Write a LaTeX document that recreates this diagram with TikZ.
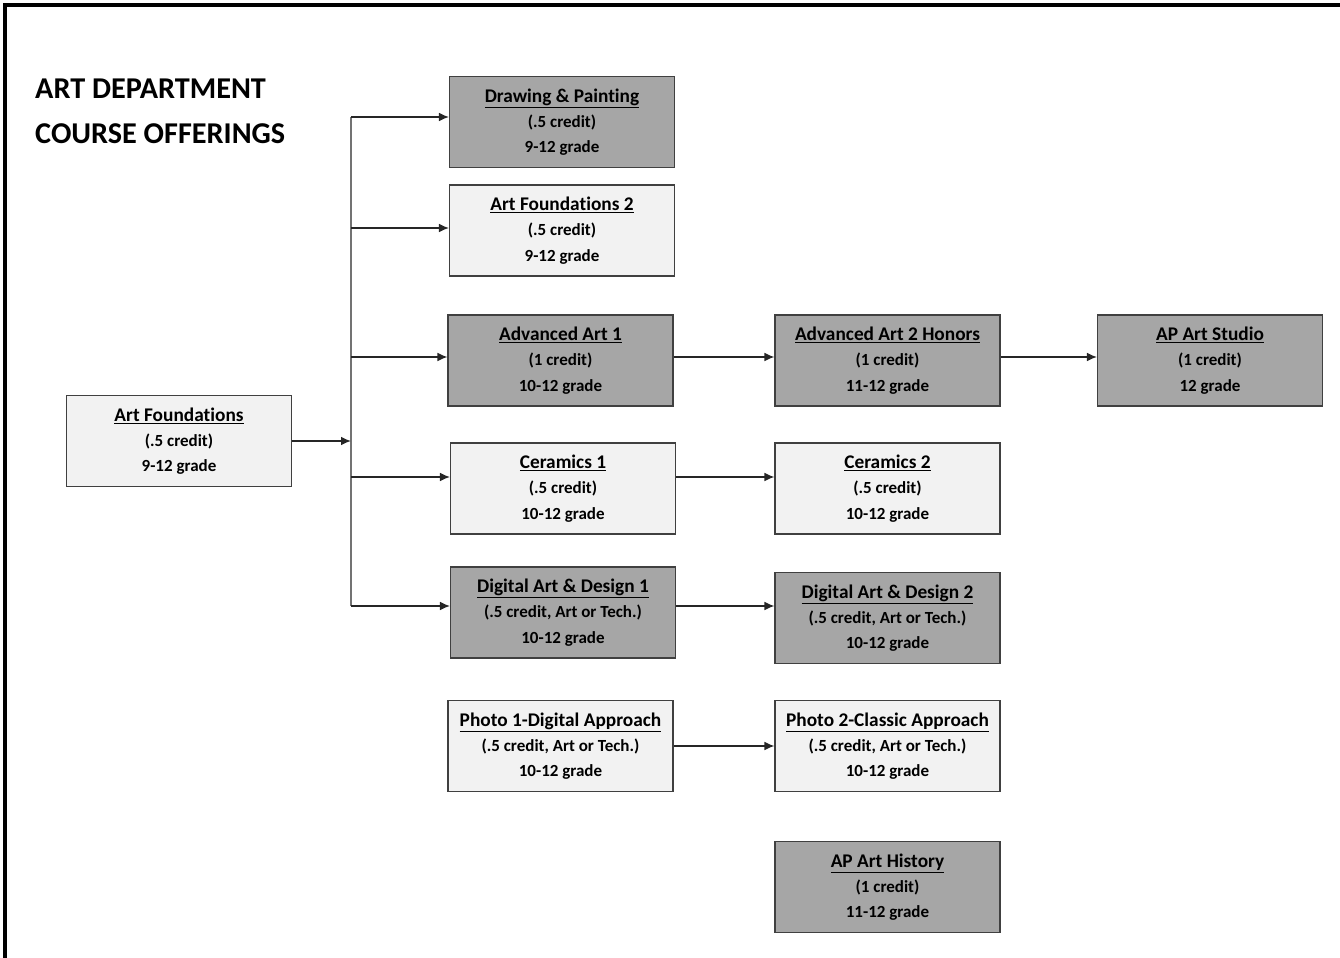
\documentclass[tikz,border=0pt]{standalone}
\usepackage{fontspec}
\setmainfont[Ligatures=NoCommon, RawFeature={-liga;-clig;-calt}]{Carlito}
\usepackage{xcolor}
\usetikzlibrary{arrows.meta, positioning, calc}
\definecolor{artDark}{RGB}{166, 166, 166}
\definecolor{artLight}{RGB}{242, 242, 242}
\definecolor{artBorder}{RGB}{64, 64, 64}
\newcommand{\boxtitle}[1]{{\fontsize{16.5pt}{21.3pt}\selectfont\underline{#1}}}

\begin{document}
\begin{tikzpicture}[x=0.03cm, y=-0.03cm]
        \tikzstyle{box} = [rectangle, minimum width=6.75cm, minimum height=2.73cm, align=center, font=\fontsize{14.5pt}{21.5pt}\selectfont\bfseries, draw=artBorder, line width=0.9pt, inner sep=2pt]
        \tikzstyle{title} = [anchor=base west, inner sep=0pt, font=\fontsize{25.8pt}{30pt}\selectfont\bfseries]
        \tikzstyle{arrow} = [-{Latex[length=3mm, width=2.6mm]}, line width=1.1pt, black!85]
        \tikzstyle{trunk} = [line width=1pt, black!55]

        \useasboundingbox (0,0) rectangle (1340,958);
        \draw[line width=2.6pt] (5,958) -- (5,5) -- (1340,5);

        % Title
        \node[title] (title1) at (35,99) {ART DEPARTMENT};
        \node[title] (title2) at (35,144) {COURSE OFFERINGS};

        % First year
        \node[box, fill=artLight] (af) at (179,441) {\boxtitle{Art Foundations}\\(.5 credit)\\9-12 grade};

        % Second column
        \node[box, fill=artDark] (dp) at (562,122) {\boxtitle{Drawing \& Painting}\\(.5 credit)\\9-12 grade};
        \node[box, fill=artLight] (af2) at (562,230.5) {\boxtitle{Art Foundations 2}\\(.5 credit)\\9-12 grade};
        \node[box, fill=artDark] (adv1) at (560.5,360.5) {\boxtitle{Advanced Art 1}\\(1 credit)\\10-12 grade};
        \node[box, fill=artLight] (cer1) at (563,488.5) {\boxtitle{Ceramics 1}\\(.5 credit)\\10-12 grade};
        \node[box, fill=artDark] (dig1) at (563,612.5) {\boxtitle{Digital Art \& Design 1}\\(.5 credit, Art or Tech.)\\10-12 grade};
        \node[box, fill=artLight] (photo1) at (560.5,746) {\boxtitle{Photo 1-Digital Approach}\\(.5 credit, Art or Tech.)\\10-12 grade};

        % Third column
        \node[box, fill=artDark] (adv2) at (887.5,360.5) {\boxtitle{Advanced Art 2 Honors}\\(1 credit)\\11-12 grade};
        \node[box, fill=artLight] (cer2) at (887.5,488.5) {\boxtitle{Ceramics 2}\\(.5 credit)\\10-12 grade};
        \node[box, fill=artDark] (dig2) at (887.5,618) {\boxtitle{Digital Art \& Design 2}\\(.5 credit, Art or Tech.)\\10-12 grade};
        \node[box, fill=artLight] (photo2) at (887.5,746) {\boxtitle{Photo 2-Classic Approach}\\(.5 credit, Art or Tech.)\\10-12 grade};
        \node[box, fill=artDark] (aphist) at (887.5,887) {\boxtitle{AP Art History}\\(1 credit)\\11-12 grade};

        % Fourth column
        \node[box, fill=artDark] (apstudio) at (1210,360.5) {\boxtitle{AP Art Studio}\\(1 credit)\\12 grade};

        % Branch points
        \coordinate (b1) at (351,117);
        \coordinate (b2) at (351,228);
        \coordinate (b3) at (351,357);
        \coordinate (b4) at (351,477);
        \coordinate (b5) at (351,606);

        \draw[trunk] (b1) -- (b5);
        \draw[arrow] (af.east) -- (af.east -| b1);
        \draw[arrow] (b1) -- (b1 -| dp.west);
        \draw[arrow] (b2) -- (b2 -| af2.west);
        \draw[arrow] (b3) -- (b3 -| adv1.west);
        \draw[arrow] (b4) -- (b4 -| cer1.west);
        \draw[arrow] (b5) -- (b5 -| dig1.west);

        \draw[arrow] (adv1.east |- b3) -- (adv2.west |- b3);
        \draw[arrow] (adv2.east |- b3) -- (apstudio.west |- b3);
        \draw[arrow] (cer1.east |- b4) -- (cer2.west |- b4);
        \draw[arrow] (dig1.east |- b5) -- (dig2.west |- b5);
        \draw[arrow] (photo1.east) -- (photo2.west);
    \end{tikzpicture}
\end{document}
